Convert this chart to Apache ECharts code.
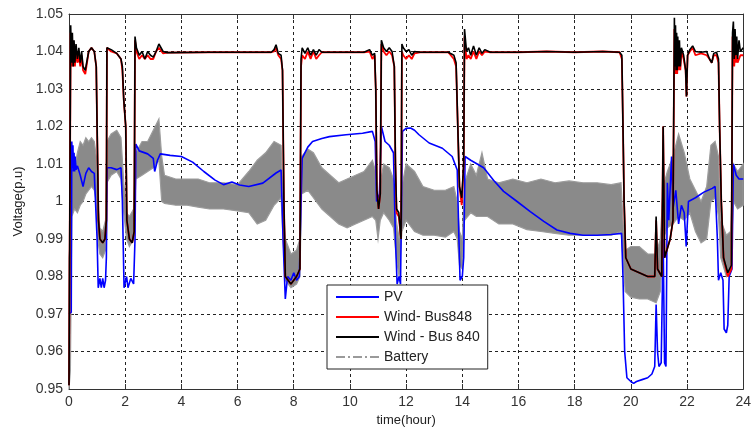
<!DOCTYPE html>
<html><head><meta charset="utf-8">
<script src="https://cdn.jsdelivr.net/npm/echarts@6/dist/echarts.min.js"></script>
<style>html,body{margin:0;padding:0;background:#fff}#c{width:754px;height:435px}</style>
</head><body><div id="c"></div>
<script>
// ---- data ----
var xTicks = [0,2,4,6,8,10,12,14,16,18,20,22,24];
var yTicks = [0.95,0.96,0.97,0.98,0.99,1,1.01,1.02,1.03,1.04,1.05];

var pvT = [0,0.08,0.1,0.12,0.14,0.16,0.18,0.2,0.22,0.25,0.3,0.4,0.5,0.6,0.7,0.8,0.9,0.96,1.0,1.04,1.1,1.15,1.2,1.25,1.3,1.33,1.36,1.5,1.7,1.85,1.9,1.96,2.05,2.1,2.2,2.3,2.35,2.38,2.5,2.8,3.0,3.05,3.15,3.25,3.6,4.0,4.4,4.8,5.2,5.5,5.8,6.07,6.4,6.9,7.37,7.55,7.62,7.7,7.78,7.9,8.0,8.1,8.2,8.26,8.3,8.5,8.67,9.0,9.27,9.86,10.45,10.8,10.9,10.95,11.05,11.12,11.17,11.25,11.4,11.55,11.62,11.68,11.75,11.8,11.84,11.87,12.0,12.16,12.3,12.46,12.82,13.29,13.64,13.82,13.88,13.92,14.0,14.05,14.1,14.3,14.76,15.12,15.47,15.95,16.42,16.9,17.37,17.84,18.3,18.8,19.3,19.67,19.72,19.78,19.86,20.0,20.1,20.2,20.4,20.6,20.75,20.85,20.9,20.95,21.0,21.08,21.15,21.2,21.25,21.3,21.35,21.45,21.5,21.6,21.7,21.8,21.9,21.97,22.05,22.3,22.6,22.9,23.0,23.08,23.12,23.2,23.28,23.32,23.4,23.45,23.5,23.6,23.65,23.75,23.85,24.0];
var pvV = [0.970,0.9705,1.016,1.009,1.015,1.008,1.013,1.008,1.012,1.0085,1.0095,1.007,1.004,1.0075,1.009,1.008,1.0075,1.007,0.990,0.977,0.9795,0.977,0.9795,0.977,0.979,0.985,1.009,1.009,1.0085,1.009,1.000,0.977,0.980,0.977,0.9795,0.978,0.990,1.0153,1.0135,1.0127,1.0115,1.008,1.011,1.0127,1.0123,1.012,1.0105,1.008,1.0057,1.0045,1.0052,1.0044,1.004,1.0049,1.0076,1.0084,0.990,0.974,0.980,0.979,0.981,0.979,0.980,1.000,1.0115,1.0145,1.016,1.0168,1.0173,1.0178,1.0182,1.0187,1.016,1.000,1.002,1.020,1.0204,1.016,1.015,1.013,0.990,0.978,0.980,0.978,1.000,1.0187,1.0195,1.0196,1.019,1.0178,1.0156,1.0142,1.012,1.0084,0.990,0.979,0.980,0.985,1.012,1.011,1.009,1.0056,1.0027,1.000,0.9973,0.9947,0.9924,0.9915,0.991,0.991,0.9912,0.9915,0.980,0.960,0.953,0.952,0.9515,0.952,0.9525,0.953,0.954,0.956,0.9725,0.960,0.956,0.957,0.990,0.957,0.956,1.005,0.995,1.012,0.998,1.003,0.994,0.999,0.997,0.988,1.000,1.001,1.0025,1.0035,1.004,0.990,0.979,0.981,0.979,0.966,0.965,0.967,0.980,0.982,1.010,1.007,1.006,1.006];

var windT = [0,0.03,0.06,0.09,0.12,0.15,0.18,0.21,0.25,0.3,0.35,0.4,0.45,0.5,0.58,0.63,0.7,0.8,0.9,0.97,1.0,1.05,1.1,1.2,1.28,1.33,1.35,1.5,1.7,1.85,1.9,1.95,2.02,2.06,2.15,2.25,2.32,2.35,2.4,2.5,2.6,2.7,2.8,2.9,3.0,3.1,3.2,3.35,3.5,5.0,7.2,7.3,7.37,7.45,7.55,7.6,7.65,7.7,7.9,8.1,8.22,8.26,8.3,8.4,8.5,8.6,8.7,8.8,8.9,9.0,9.5,10.0,10.5,10.7,10.8,10.88,10.92,10.96,11.02,11.08,11.12,11.2,11.3,11.4,11.5,11.58,11.62,11.66,11.74,11.82,11.85,11.9,12.0,12.1,12.2,12.3,12.5,13.0,13.5,13.7,13.78,13.84,13.9,13.98,14.05,14.08,14.15,14.22,14.3,14.4,14.5,14.6,14.7,14.8,15.0,16.0,17.0,18.0,19.0,19.6,19.68,19.72,19.76,19.82,20.0,20.3,20.6,20.85,20.9,20.95,21.1,21.15,21.2,21.4,21.5,21.55,21.57,21.59,21.61,21.63,21.65,21.67,21.7,21.73,21.76,21.8,21.88,21.95,21.98,22.02,22.1,22.2,22.3,22.5,22.7,22.8,22.88,22.95,23.05,23.12,23.16,23.22,23.3,23.45,23.58,23.62,23.65,23.68,23.71,23.74,23.77,23.8,23.85,23.9,24.0];
var windBlack = [0.951,0.951,1.047,1.037,1.045,1.036,1.043,1.037,1.042,1.038,1.041,1.037,1.040,1.036,1.035,1.0345,1.040,1.041,1.040,1.036,1.020,0.995,0.990,0.989,0.990,0.995,1.041,1.0405,1.0395,1.038,1.036,1.027,1.020,0.995,0.990,0.989,0.992,1.044,1.041,1.039,1.040,1.038,1.040,1.039,1.0385,1.040,1.042,1.040,1.0397,1.0398,1.0398,1.0405,1.0418,1.0395,1.039,1.035,1.000,0.980,0.978,0.980,0.982,1.038,1.041,1.0395,1.041,1.039,1.0405,1.039,1.0405,1.0398,1.0398,1.0398,1.0398,1.0405,1.039,1.0395,1.030,1.003,0.998,1.002,1.043,1.041,1.040,1.041,1.040,1.036,1.010,0.998,0.997,0.990,1.042,1.041,1.040,1.0405,1.039,1.040,1.0398,1.0398,1.0398,1.039,1.037,1.020,1.004,1.001,1.010,1.046,1.040,1.041,1.039,1.0415,1.039,1.041,1.0395,1.0405,1.0398,1.0398,1.040,1.0398,1.040,1.0398,1.039,1.020,1.000,0.985,0.982,0.981,0.980,0.980,0.996,0.982,0.980,1.020,0.985,0.990,0.995,1.049,1.036,1.047,1.035,1.045,1.035,1.044,1.036,1.043,1.036,1.041,1.039,1.035,1.028,1.039,1.0405,1.0415,1.040,1.0398,1.040,1.038,1.037,1.0395,1.0398,1.038,1.020,1.000,0.985,0.981,0.983,1.045,1.048,1.038,1.046,1.039,1.044,1.038,1.043,1.040,1.041,1.040];
var windRed = [0.951,0.951,1.045,1.036,1.043,1.036,1.041,1.036,1.040,1.037,1.039,1.036,1.039,1.035,1.034,1.034,1.040,1.041,1.040,1.036,1.020,0.995,0.990,0.989,0.990,0.995,1.041,1.040,1.0395,1.038,1.035,1.027,1.020,0.995,0.990,0.989,0.992,1.043,1.040,1.038,1.039,1.038,1.039,1.038,1.038,1.040,1.041,1.0395,1.0397,1.0398,1.0398,1.040,1.041,1.039,1.038,1.035,1.000,0.980,0.978,0.980,0.982,1.036,1.039,1.038,1.040,1.038,1.040,1.038,1.039,1.0398,1.0398,1.0398,1.0398,1.040,1.038,1.039,1.030,1.003,0.998,1.002,1.042,1.040,1.039,1.040,1.039,1.036,1.010,0.997,0.996,0.990,1.040,1.039,1.038,1.039,1.038,1.0395,1.0398,1.0398,1.0398,1.038,1.036,1.020,1.004,0.999,1.010,1.044,1.038,1.039,1.038,1.040,1.038,1.040,1.039,1.040,1.0398,1.0398,1.040,1.0398,1.040,1.0398,1.038,1.020,1.000,0.985,0.982,0.981,0.980,0.980,0.995,0.982,0.980,1.020,0.985,0.990,0.995,1.046,1.034,1.044,1.034,1.042,1.034,1.041,1.035,1.040,1.035,1.040,1.038,1.035,1.028,1.039,1.040,1.041,1.039,1.0395,1.039,1.038,1.037,1.039,1.039,1.037,1.020,1.000,0.985,0.980,0.982,1.044,1.044,1.036,1.040,1.037,1.039,1.037,1.038,1.039,1.039,1.039];

var batT  = [0,0.05,0.1,0.2,0.3,0.4,0.5,0.6,0.7,0.8,0.9,0.97,1.02,1.1,1.2,1.3,1.35,1.5,1.7,1.85,1.95,2.05,2.15,2.3,2.38,2.6,2.8,3.0,3.2,3.3,3.4,3.8,4.2,4.6,5.0,5.5,6.0,6.4,6.7,7.0,7.3,7.55,7.62,7.7,7.9,8.1,8.22,8.28,8.5,8.7,9.0,9.3,9.6,9.9,10.2,10.5,10.8,10.92,11.0,11.08,11.2,11.4,11.55,11.65,11.75,11.85,12.0,12.3,12.6,13.0,13.4,13.7,13.82,13.9,14.0,14.08,14.3,14.5,14.7,14.9,15.3,15.8,16.3,16.8,17.3,17.8,18.3,18.8,19.3,19.65,19.72,19.8,20.0,20.3,20.6,20.9,21.05,21.15,21.3,21.5,21.7,21.9,22.1,22.3,22.5,22.7,22.85,23.0,23.12,23.2,23.4,23.55,23.65,23.8,24.0];
var batLo = [0.950,0.955,0.996,0.998,0.997,0.999,1.000,1.002,1.003,1.004,1.003,1.000,0.990,0.986,0.985,0.987,1.005,1.007,1.008,1.006,0.997,0.990,0.988,0.990,1.006,1.007,1.008,1.009,1.011,1.000,0.9995,0.999,0.999,0.9985,0.998,0.998,0.9975,0.997,0.994,0.995,0.999,1.001,0.990,0.979,0.977,0.978,0.980,1.002,1.003,1.001,0.998,0.996,0.994,0.993,0.994,0.995,0.996,0.995,0.990,0.995,0.997,0.995,0.993,0.985,0.980,0.992,0.995,0.992,0.991,0.991,0.9905,0.992,0.990,0.983,0.982,0.995,0.997,0.996,0.996,0.996,0.994,0.994,0.9925,0.992,0.9915,0.991,0.991,0.991,0.991,0.992,0.985,0.976,0.9745,0.974,0.974,0.973,0.976,0.990,0.993,0.994,0.996,0.995,0.997,0.992,0.989,0.990,1.000,1.001,0.996,0.985,0.980,0.982,1.000,0.998,0.999];
var batHi = [0.985,0.990,1.010,1.009,1.013,1.016,1.015,1.017,1.016,1.017,1.016,1.012,1.000,0.993,0.992,0.995,1.016,1.018,1.019,1.017,1.005,0.997,0.996,0.998,1.013,1.016,1.016,1.019,1.022,1.012,1.007,1.006,1.006,1.006,1.005,1.005,1.0045,1.008,1.011,1.013,1.016,1.015,1.000,0.990,0.986,0.987,0.990,1.012,1.014,1.013,1.009,1.007,1.005,1.006,1.007,1.008,1.011,1.008,0.999,1.005,1.010,1.009,1.006,0.995,0.990,1.004,1.010,1.008,1.004,1.003,1.003,1.004,1.000,0.992,0.990,1.005,1.010,1.007,1.013,1.006,1.005,1.006,1.005,1.006,1.005,1.0055,1.005,1.005,1.0045,1.005,0.995,0.987,0.988,0.988,0.986,0.986,0.990,1.004,1.008,1.012,1.018,1.013,1.006,1.003,1.000,1.004,1.015,1.016,1.012,0.995,0.991,0.992,1.010,1.008,1.010];

var seriesNames = ['PV','Wind- Bus848','Wind - Bus 840','Battery'];

function pairs(t, v){ return t.map(function(x,i){ return [x, v[i]]; }); }

var chart = echarts.init(document.getElementById('c'), null, {renderer:'canvas'});
var font = 'Liberation Sans, Arial, sans-serif';
var gridDash = {color:'#222', type:[3,3], width:1};

chart.setOption({
  animation:false,
  backgroundColor:'#fff',
  grid:{left:69, right:9, top:14, bottom:46, containLabel:false},
  xAxis:[{
    type:'value', min:0, max:24, interval:2, position:'bottom',
    name:'time(hour)', nameLocation:'middle', nameGap:17,
    nameTextStyle:{fontFamily:font, fontSize:13, color:'#222'},
    axisLine:{show:true, onZero:false, lineStyle:{color:'#333', width:1}},
    axisTick:{show:true, inside:true, length:5, lineStyle:{color:'#333'}},
    axisLabel:{fontFamily:font, fontSize:14, color:'#333', margin:6,
      formatter:function(v){ return xTicks.indexOf(v)>=0 ? String(v) : ''; }},
    splitLine:{show:true, lineStyle:gridDash}
  },{
    type:'value', min:0, max:24, interval:2, position:'top',
    axisLine:{show:true, onZero:false, lineStyle:{color:'#333', width:1}},
    axisTick:{show:true, inside:true, length:5, lineStyle:{color:'#333'}},
    axisLabel:{show:false}, splitLine:{show:false}
  }],
  yAxis:[{
    type:'value', min:0.95, max:1.05, interval:0.01, position:'left',
    name:'Voltage(p.u)', nameLocation:'middle', nameGap:44, nameRotate:90,
    nameTextStyle:{fontFamily:font, fontSize:13, color:'#222'},
    axisLine:{show:true, onZero:false, lineStyle:{color:'#333', width:1}},
    axisTick:{show:true, inside:true, length:5, lineStyle:{color:'#333'}},
    axisLabel:{fontFamily:font, fontSize:14, color:'#333', margin:6,
      formatter:function(v){
        var r = Math.round(v*100)/100;
        for (var i=0;i<yTicks.length;i++){ if (Math.abs(yTicks[i]-r)<1e-9) return String(yTicks[i]); }
        return '';
      }},
    splitLine:{show:true, lineStyle:gridDash}
  },{
    type:'value', min:0.95, max:1.05, interval:0.01, position:'right',
    axisLine:{show:true, onZero:false, lineStyle:{color:'#333', width:1}},
    axisTick:{show:true, inside:true, length:5, lineStyle:{color:'#333'}},
    axisLabel:{show:false}, splitLine:{show:false}
  }],
  legend:{
    data:seriesNames, orient:'vertical', left:327, top:285,
    padding:[5,8,5,8], itemGap:6, itemWidth:43, itemHeight:14,
    backgroundColor:'#fff', borderColor:'#222', borderWidth:1, borderRadius:0,
    itemStyle:{opacity:0},
    textStyle:{fontFamily:font, fontSize:14, color:'#222'}
  },
  series:[
    {name:seriesNames[0], type:'line', xAxisIndex:0, yAxisIndex:0, data:pairs(pvT,pvV),
     symbol:'none', color:'#0000ff', lineStyle:{color:'#0000ff', width:1.6}},
    {name:'BatteryBand', type:'custom', xAxisIndex:0, yAxisIndex:0, silent:true,
     data:[[batT[0], batLo[0]]],
     renderItem:function(params, api){
       var pts = [], i;
       for (i=0;i<batT.length;i++) pts.push(api.coord([batT[i], batHi[i]]));
       for (i=batT.length-1;i>=0;i--) pts.push(api.coord([batT[i], batLo[i]]));
       return {type:'polygon', shape:{points:pts},
               style:{fill:'#8a8a8a', stroke:'#9c9c9c', lineWidth:1.2}};
     }},
    {name:seriesNames[1], type:'line', xAxisIndex:0, yAxisIndex:0, data:pairs(windT,windRed),
     symbol:'none', color:'#ff0000', lineStyle:{color:'#ff0000', width:1.8}},
    {name:seriesNames[2], type:'line', xAxisIndex:0, yAxisIndex:0, data:pairs(windT,windBlack),
     symbol:'none', color:'#000000', lineStyle:{color:'#000000', width:1.6}},
    {name:seriesNames[3], type:'line', xAxisIndex:0, yAxisIndex:0, data:[],
     symbol:'none', color:'#9a9a9a', lineStyle:{color:'#9a9a9a', width:1.5, type:[9,3,2,3]}}
  ]
});
</script></body></html>
